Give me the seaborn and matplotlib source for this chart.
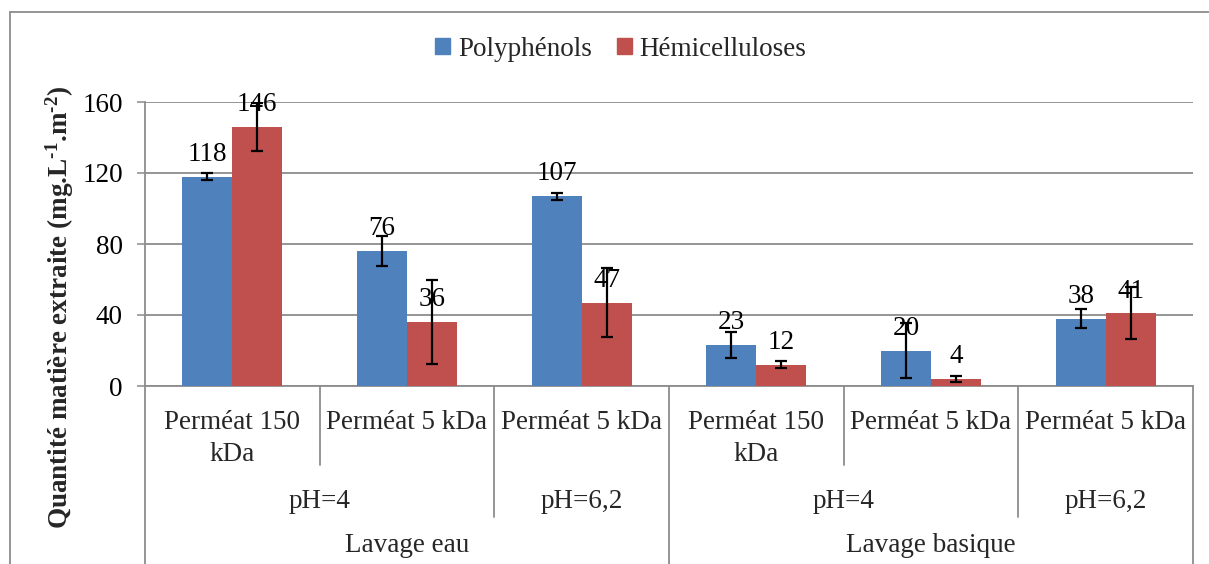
import matplotlib
matplotlib.use("Agg")
import matplotlib.pyplot as plt
import matplotlib.transforms as mtransforms
from matplotlib.lines import Line2D
import seaborn as sns
import pandas as pd

# --- data -------------------------------------------------------------
lavage = ["Lavage eau", "Lavage eau", "Lavage eau",
          "Lavage basique", "Lavage basique", "Lavage basique"]
ph = ["pH=4", "pH=4", "pH=6,2", "pH=4", "pH=4", "pH=6,2"]
permeat = ["Perméat 150\nkDa", "Perméat 5 kDa", "Perméat 5 kDa",
           "Perméat 150\nkDa", "Perméat 5 kDa", "Perméat 5 kDa"]
series = ["Polyphénols", "Hémicelluloses"]
polyphenols = [118, 76, 107, 23, 20, 38]
polyphenols_err = [2, 8.5, 2, 7.5, 15.5, 5.5]
hemicelluloses = [146, 36, 47, 12, 4, 41]
hemicelluloses_err = [13.5, 23.5, 19.5, 2, 1.5, 14.5]
yticks = [0, 40, 80, 120, 160]
ylabel = ("Quantité matière extraite (mg.L$^{\\text{-1}}$"
          ".m$^{\\text{-2}}$)")

colors = ["#4F81BD", "#C0504D"]
grey = "#8C8C8C"

keys = [f"{l}|{p}|{c}" for l, p, c in zip(lavage, ph, permeat)]
df = pd.DataFrame({
    "key": keys * 2,
    "serie": [series[0]] * 6 + [series[1]] * 6,
    "valeur": polyphenols + hemicelluloses,
})
errors = [polyphenols_err, hemicelluloses_err]

# --- style ------------------------------------------------------------
sns.set_theme(style="white")
plt.rcParams["font.family"] = ["Liberation Serif", "DejaVu Serif"]
plt.rcParams["mathtext.fontset"] = "custom"
plt.rcParams["mathtext.rm"] = "Liberation Serif:bold"
plt.rcParams["mathtext.it"] = "Liberation Serif:bold"
plt.rcParams["mathtext.bf"] = "Liberation Serif:bold"
FS = 19.5

W, H = 1209, 564
fig = plt.figure(figsize=(W / 100, H / 100), dpi=100)
ax_left, ax_right, ax_top, ax_bottom = 145, 1193, 102, 386
ax = fig.add_axes([ax_left / W, 1 - ax_bottom / H,
                   (ax_right - ax_left) / W, (ax_bottom - ax_top) / H])

sns.barplot(data=df, x="key", y="valeur", hue="serie", order=keys,
            hue_order=series, palette=colors, width=0.572, gap=0,
            errorbar=None, legend=False, saturation=1, ax=ax, zorder=3,
            edgecolor="none")

# error bars and value labels on each bar
for cont, err, vals in zip(ax.containers, errors, [polyphenols, hemicelluloses]):
    xs = [p.get_x() + p.get_width() / 2 for p in cont.patches]
    hs = [p.get_height() for p in cont.patches]
    ax.errorbar(xs, hs, yerr=err, fmt="none", ecolor="black",
                elinewidth=1.6, capsize=4.6, capthick=1.6, zorder=5)
    ax.bar_label(cont, labels=[f"{v:g}" for v in vals], padding=7,
                 fontsize=FS, color="black", zorder=4)

# axes
ax.set_ylim(0, 160)
ax.set_xlim(-0.5, 5.5)
ax.set_yticks(yticks)
ax.set_yticklabels([str(t) for t in yticks], fontsize=FS)
ax.yaxis.grid(True, color=grey, linewidth=1.3, zorder=0)
ax.set_axisbelow(True)
ax.tick_params(axis="y", left=True, length=6, width=1.1, color=grey,
               pad=10, labelcolor="black")
ax.set_xticks(range(6))
ax.set_xticklabels(permeat, fontsize=FS, linespacing=1.38)
ax.tick_params(axis="x", bottom=False, length=0, pad=17)
ax.set_xlabel("")
ax.set_ylabel("")
for side in ["top", "right"]:
    ax.spines[side].set_visible(False)
for side in ["left", "bottom"]:
    ax.spines[side].set_color(grey)
    ax.spines[side].set_linewidth(1.3)

# hierarchical category axis below the plot
trans = mtransforms.blended_transform_factory(ax.transData, ax.transAxes)
hpx = ax_bottom - ax_top


def ya(ypix):
    return (ax_bottom - ypix) / hpx


row1, row2, row3 = 465, 517, H + 5
for x, yend in [(-0.5, row3), (0.5, row1), (1.5, row2), (2.5, row3),
                (3.5, row1), (4.5, row2), (5.5, row3)]:
    ax.add_line(Line2D([x, x], [0, ya(yend)], transform=trans, color=grey,
                       linewidth=1.3, clip_on=False))

ph_groups = [(0.5, "pH=4"), (2, "pH=6,2"), (3.5, "pH=4"), (5, "pH=6,2")]
for x, t in ph_groups:
    ax.text(x, ya(501), t, transform=trans, ha="center", va="center",
            fontsize=FS)
lav_groups = [(1, "Lavage eau"), (4, "Lavage basique")]
for x, t in lav_groups:
    ax.text(x, ya(546), t, transform=trans, ha="center", va="center",
            fontsize=FS)

# y-axis title
fig.text(60 / W, 1 - 307 / H, ylabel, rotation=90, ha="center",
         va="center", fontsize=FS, fontweight="bold")

# legend
handles = [plt.Rectangle((0, 0), 1, 1, color=c) for c in colors]
fig.legend(handles, series, loc="center", bbox_to_anchor=(621 / W, 1 - 49 / H),
           ncol=2, frameon=False, fontsize=FS, handlelength=0.55,
           handleheight=0.55, handletextpad=0.3, columnspacing=0.9)

# chart frame
fig.add_artist(Line2D([10 / W, 10 / W], [0, 1 - 12 / H], transform=fig.transFigure,
                      color=grey, linewidth=1.3))
fig.add_artist(Line2D([10 / W, 1], [1 - 12 / H, 1 - 12 / H],
                      transform=fig.transFigure, color=grey, linewidth=1.3))

fig.savefig("out.png", dpi=100, facecolor="white")
